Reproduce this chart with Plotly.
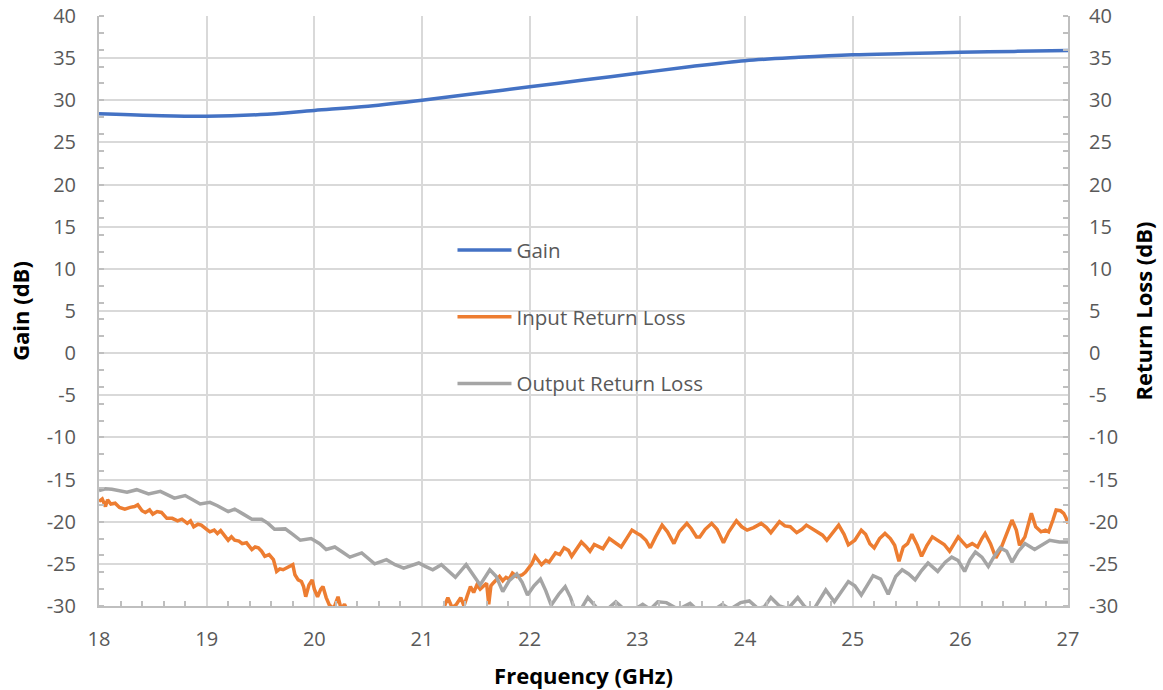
import plotly.graph_objects as go

# ---------------- data ----------------
gain_freq = [18.0, 18.5, 19.0, 19.5, 20.0, 20.5, 21.0, 21.5, 22.0, 22.5,
             23.0, 23.5, 24.0, 24.5, 25.0, 25.5, 26.0, 26.5, 27.0]
gain_db = [28.4, 28.2, 28.1, 28.3, 28.8, 29.3, 30.0, 30.8, 31.6, 32.4,
           33.2, 34.0, 34.7, 35.1, 35.4, 35.55, 35.7, 35.8, 35.9]

irl_freq = [18.00, 18.03, 18.06, 18.08, 18.11, 18.15, 18.19, 18.24, 18.29, 18.33,
            18.36, 18.40, 18.43, 18.47, 18.50, 18.54, 18.58, 18.63, 18.68, 18.73,
            18.77, 18.82, 18.85, 18.88, 18.92, 18.95, 19.00, 19.03, 19.07, 19.10,
            19.13, 19.17, 19.20, 19.23, 19.26, 19.30, 19.33, 19.37, 19.42, 19.45,
            19.48, 19.51, 19.54, 19.58, 19.62, 19.65, 19.68, 19.71, 19.74, 19.77,
            19.80, 19.82, 19.85, 19.88, 19.90, 19.92, 19.95, 19.98, 20.00, 20.03,
            20.06, 20.08, 20.11, 20.14, 20.18, 20.22, 20.25, 20.28, 20.31, 20.36,
            20.45, 20.60, 20.80, 21.00, 21.12, 21.20, 21.24, 21.28, 21.32, 21.36,
            21.39, 21.42, 21.45, 21.48, 21.51, 21.54, 21.57, 21.60, 21.62, 21.64,
            21.66, 21.69, 21.72, 21.75, 21.78, 21.81, 21.84, 21.88, 21.93, 21.96,
            21.99, 22.02, 22.05, 22.08, 22.11, 22.15, 22.18, 22.24, 22.28, 22.32,
            22.36, 22.39, 22.44, 22.48, 22.52, 22.56, 22.60, 22.64, 22.68, 22.74,
            22.80, 22.85, 22.90, 22.95, 23.00, 23.03, 23.08, 23.12, 23.17, 23.23,
            23.28, 23.34, 23.39, 23.46, 23.50, 23.55, 23.58, 23.63, 23.69, 23.74,
            23.80, 23.85, 23.92, 23.97, 24.02, 24.08, 24.15, 24.20, 24.24, 24.28,
            24.32, 24.37, 24.42, 24.48, 24.53, 24.57, 24.62, 24.68, 24.72, 24.76,
            24.82, 24.87, 24.92, 24.96, 25.02, 25.08, 25.12, 25.16, 25.20, 25.25,
            25.30, 25.35, 25.39, 25.43, 25.47, 25.51, 25.55, 25.60, 25.64, 25.69,
            25.74, 25.80, 25.85, 25.90, 25.94, 25.98, 26.02, 26.06, 26.11, 26.16,
            26.20, 26.23, 26.28, 26.33, 26.37, 26.40, 26.44, 26.48, 26.52, 26.55,
            26.60, 26.63, 26.66, 26.70, 26.75, 26.79, 26.82, 26.86, 26.89, 26.93,
            26.96, 26.98, 27.00]
irl_db = [-17.6, -17.3, -18.2, -17.4, -17.9, -17.8, -18.3, -18.5, -18.3, -18.2,
          -18.0, -18.7, -18.9, -18.6, -19.1, -18.8, -18.9, -19.6, -19.6, -19.9,
          -19.7, -20.2, -19.9, -20.6, -20.3, -20.4, -20.9, -21.2, -21.0, -21.4,
          -21.05, -21.7, -22.2, -21.8, -22.2, -22.3, -22.6, -22.5, -23.3, -23.0,
          -23.1, -23.5, -24.1, -23.9, -24.5, -25.9, -25.6, -25.7, -25.5, -25.3,
          -25.1, -26.3, -26.9, -27.1, -27.7, -28.9, -27.5, -26.9, -28.0, -28.9,
          -28.0, -27.7, -29.0, -29.9, -30.3, -28.9, -30.4, -29.8, -30.6, -31.5,
          -32.5, -33.5, -34.0, -33.0, -31.5, -30.3, -29.0, -30.2, -29.8, -29.0,
          -30.0, -28.8, -27.7, -28.4, -27.5, -28.0, -27.6, -27.3, -29.8, -27.6,
          -27.3, -26.9, -26.5, -27.0, -26.6, -26.8, -26.1, -26.5, -26.3, -26.0,
          -25.5, -25.0, -24.1, -24.6, -25.1, -24.6, -24.8, -23.7, -23.9, -23.1,
          -23.4, -24.1, -23.2, -22.4, -22.9, -23.5, -22.7, -22.9, -23.2, -22.0,
          -22.5, -23.0, -22.0, -21.0, -21.4, -21.6, -22.2, -23.1, -21.8, -20.4,
          -21.2, -22.6, -21.2, -20.2, -20.8, -21.8, -21.8, -20.9, -20.2, -20.9,
          -22.5, -21.2, -19.9, -20.6, -21.0, -20.7, -20.2, -20.7, -21.3, -20.6,
          -20.0, -20.5, -20.6, -21.3, -20.9, -20.4, -20.8, -21.2, -21.6, -22.2,
          -21.3, -20.4, -21.5, -22.75, -22.2, -21.0, -21.5, -22.6, -23.1, -22.0,
          -21.4, -22.0, -22.8, -24.7, -23.0, -22.6, -21.5, -22.8, -24.1, -22.8,
          -21.8, -22.3, -22.7, -23.5, -22.6, -21.8, -22.4, -22.95, -22.6, -23.0,
          -22.0, -21.4, -22.6, -24.3, -23.4, -22.4, -21.0, -19.8, -21.0, -22.8,
          -21.8, -20.4, -19.0, -20.6, -21.2, -21.0, -21.2, -19.8, -18.6, -18.7,
          -19.0, -19.5, -20.2]

orl_freq = [18.00, 18.06, 18.12, 18.19, 18.26, 18.35, 18.46, 18.57, 18.64, 18.70,
            18.80, 18.87, 18.94, 19.03, 19.10, 19.20, 19.26, 19.34, 19.42, 19.51,
            19.57, 19.63, 19.73, 19.80, 19.87, 19.97, 20.05, 20.11, 20.19, 20.26,
            20.33, 20.44, 20.50, 20.56, 20.67, 20.75, 20.83, 20.97, 21.03, 21.10,
            21.18, 21.25, 21.31, 21.41, 21.48, 21.54, 21.63, 21.69, 21.75, 21.81,
            21.88, 21.93, 21.98, 22.04, 22.10, 22.15, 22.20, 22.27, 22.33, 22.38,
            22.42, 22.48, 22.54, 22.60, 22.65, 22.72, 22.80, 22.87, 22.95, 23.05,
            23.12, 23.19, 23.27, 23.38, 23.49, 23.56, 23.65, 23.73, 23.79, 23.86,
            23.96, 24.04, 24.12, 24.18, 24.24, 24.32, 24.40, 24.49, 24.55, 24.62,
            24.68, 24.75, 24.83, 24.90, 24.96, 25.02, 25.08, 25.19, 25.26, 25.33,
            25.40, 25.46, 25.52, 25.58, 25.64, 25.70, 25.79, 25.86, 25.92, 25.98,
            26.04, 26.09, 26.14, 26.20, 26.26, 26.32, 26.37, 26.43, 26.48, 26.54,
            26.60, 26.69, 26.76, 26.83, 26.92, 27.00]
orl_db = [-16.3, -16.1, -16.15, -16.3, -16.5, -16.2, -16.7, -16.4, -16.8, -17.2,
          -16.9, -17.4, -17.9, -17.7, -18.1, -18.8, -18.5, -19.1, -19.7, -19.7,
          -20.2, -20.9, -20.85, -21.5, -22.2, -22.0, -22.6, -23.3, -23.0, -23.6,
          -24.2, -23.7, -24.4, -25.0, -24.5, -25.1, -25.5, -24.9, -25.3, -25.7,
          -25.1, -25.9, -26.6, -25.1, -26.4, -27.5, -25.7, -26.5, -28.3, -27.0,
          -26.2, -27.2, -28.7, -27.6, -26.8, -28.2, -29.9, -28.6, -27.7, -29.0,
          -30.5, -30.3, -29.0, -29.8, -30.6, -30.4, -29.5, -30.3, -30.6, -29.8,
          -30.4, -29.5, -29.6, -30.4, -29.7, -30.5, -30.8, -30.3, -29.8, -30.4,
          -29.6, -29.4, -30.3, -30.1, -29.0, -30.0, -30.3, -29.0, -30.0, -30.8,
          -29.5, -28.1, -29.5, -28.3, -27.1, -27.6, -28.7, -26.4, -26.8, -28.6,
          -26.5, -25.7, -26.2, -26.9, -25.8, -24.9, -25.9, -24.8, -24.2, -24.6,
          -25.9, -24.5, -23.6, -24.2, -25.3, -24.0, -23.1, -23.5, -24.8, -23.5,
          -22.6, -23.3, -22.8, -22.2, -22.4, -22.4]

x_range = [18, 27]
y_range = [-30, 40]
y_tick_vals = [-30, -25, -20, -15, -10, -5, 0, 5, 10, 15, 20, 25, 30, 35, 40]
y_tick_text = ["-30", "-25", "-20", "-15", "-10", "-5", "0", "5", "10", "15",
               "20", "25", "30", "35", "40"]

# ---------------- figure ----------------
fig = go.Figure()
fig.add_trace(go.Scatter(x=gain_freq, y=gain_db, name="Gain", mode="lines",
                         line=dict(color="#4472C4", width=3.5, shape="spline"),
                         legendgroup="g1"))
fig.add_trace(go.Scatter(x=irl_freq, y=irl_db, name="Input Return Loss", mode="lines",
                         line=dict(color="#ED7D31", width=3.5), yaxis="y2",
                         legendgroup="g2"))
fig.add_trace(go.Scatter(x=orl_freq, y=orl_db, name="Output Return Loss", mode="lines",
                         line=dict(color="#A5A5A5", width=3.5), yaxis="y2",
                         legendgroup="g3"))

tick_font = dict(family="Open Sans", size=20, color="#595959")
title_font = dict(family="Open Sans", size=22, color="#000000")
axis_line = "#BFBFBF"
grid = "#D9D9D9"

minor_y = dict(dtick=2, tick0=0, ticks="inside", ticklen=5, tickcolor=axis_line,
               tickwidth=1.5, showgrid=False)

fig.update_layout(
    width=1163, height=690,
    margin=dict(l=99, r=95, t=16, b=84),
    paper_bgcolor="white", plot_bgcolor="white",
    font=dict(family="Open Sans", color="#595959"),
    xaxis=dict(range=x_range, dtick=1, tick0=18, showgrid=True, gridcolor=grid,
               gridwidth=1.5, showline=True, linecolor=axis_line, linewidth=2,
               ticks="", zeroline=False, tickfont=tick_font, automargin=False,
               ticklabelstandoff=14, ticklabeloverflow="allow",
               minor=dict(dtick=0.2, ticks="inside", ticklen=5, tickcolor=axis_line,
                          tickwidth=1.5, showgrid=False),
               title=dict(text="<b>Frequency (GHz)</b>", font=title_font, standoff=18)),
    yaxis=dict(range=y_range, tickmode="array", tickvals=y_tick_vals,
               ticktext=y_tick_text, showgrid=True, gridcolor=grid, gridwidth=1.5,
               showline=True, linecolor=axis_line, linewidth=2, ticks="",
               zeroline=False, tickfont=tick_font, ticklabelstandoff=17,
               ticklabeloverflow="allow", automargin=False, minor=minor_y,
               title=dict(text="<b>Gain (dB)</b>", font=title_font, standoff=11)),
    yaxis2=dict(range=y_range, tickmode="array", tickvals=y_tick_vals,
                ticktext=y_tick_text, overlaying="y", side="right", showgrid=False,
                showline=True, linecolor=axis_line, linewidth=2, ticks="",
                zeroline=False, tickfont=tick_font, ticklabelstandoff=15,
                ticklabeloverflow="allow", automargin=False, minor=minor_y,
                title=dict(text="<b>Return Loss (dB)</b>", font=title_font, standoff=19)),
    showlegend=True,
    legend=dict(x=0.3648, y=0.6368, xanchor="left", yanchor="top",
                bgcolor="rgba(0,0,0,0)", font=dict(family="Open Sans", size=20.5,
                                                   color="#595959"),
                itemwidth=54, tracegroupgap=37, traceorder="grouped"),
)

# remove the browser's default 8px page margin so the figure fills the window
fig.write_html("out.html",
               config={"displayModeBar": False},
               post_script="document.body.style.margin='0px';")
